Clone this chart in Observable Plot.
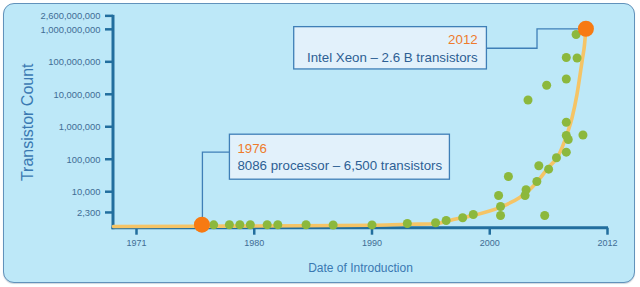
<!DOCTYPE html>
<html>
<head>
<meta charset="utf-8">
<script src="https://cdn.jsdelivr.net/npm/d3@7"></script>
<script src="https://cdn.jsdelivr.net/npm/@observablehq/plot@0.6"></script>
<style>
  html, body { margin: 0; padding: 0; background: #ffffff; }
  #wrap { position: relative; width: 640px; height: 287px; overflow: hidden; }
  #panel { position: absolute; left: 3px; top: 3px; width: 630px; height: 278px;
           border: 1.5px solid #6192bb; border-radius: 11px; background: #bde8f8;
           box-shadow: 0 1px 1px rgba(60,90,120,0.25); }
  #chart { position: absolute; left: 0; top: 0; }
</style>
</head>
<body>
<div id="wrap"><div id="panel"></div><div id="chart"></div></div>
<script>
// ---- data ----
const xTicks = [1971, 1980, 1990, 2000, 2012];
const yTicks = [2300, 10000, 100000, 1000000, 10000000, 100000000, 1000000000, 2600000000];
const yDomain = [780, 2600000000];

const chipYears = [1976.9, 1978.1, 1978.9, 1979.7, 1981.1, 1982.0, 1984.4, 1986.7, 1990.0, 1993.0,
  1995.4, 1996.3, 1997.7, 1998.6, 2000.9, 2001.1, 2001.1, 2001.9, 2003.6, 2003.7,
  2004.8, 2005.0, 2005.6, 2006.0, 2006.8, 2007.8, 2007.8, 2008.0, 2009.5, 2007.8,
  2003.9, 2005.8, 2007.8, 2007.8, 2008.9, 2008.8];
const chipCounts = [990, 1000, 1000, 1000, 1000, 1000, 1000, 975, 985, 1090,
  1145, 1350, 1630, 2060, 7930, 3640, 1920, 30500, 7930, 11900,
  21400, 65200, 1920, 51200, 115000, 171000, 558000, 420000, 578000, 1430000,
  6920000, 19700000, 30600000, 141000000, 136000000, 718000000];

const trendYears = [1969.24, 1976.2, 1983.9, 1990.0, 1993.0, 1995.4, 1996.9, 1998.6, 2001.1, 2003.1,
  2003.8, 2004.8, 2006.0, 2006.9, 2007.9, 2008.4, 2008.9, 2009.42, 2009.66, 2009.8];
const trendCounts = [880, 900, 925, 960, 1030, 1070, 1445, 1920, 3460, 7030,
  9990, 20400, 59000, 120000, 643000, 2040000, 10700000, 114000000, 353000000, 1080000000];

const highlightYears = [1976, 2009.8];
const highlightCounts = [1000, 1080000000];
const highlightTitles = ["1976", "2012"];
const highlightTexts = ["8086 processor – 6,500 transistors", "Intel Xeon – 2.6 B transistors"];

const yTitle = "Transistor Count";
const xTitle = "Date of Introduction";

// ---- build tables ----
const chips = chipYears.map((year, i) => ({year, count: chipCounts[i]}));
const trend = trendYears.map((year, i) => ({year, count: trendCounts[i]}));
const highlights = highlightYears.map((year, i) => ({year, count: highlightCounts[i],
  title: highlightTitles[i], text: highlightTexts[i]}));

// ---- styles ----
const FONT = "'Liberation Sans', Arial, Helvetica, sans-serif";
const axisColor = "#226e9e";
const tickText = "#3f6d95";
const titleColor = "#3a79b2";
const green = "#8cb83d";
const orange = "#f77a12";
const curveColor = "#f5c466";
const boxFill = "#e2f1fb";
const boxStroke = "#3f7fb7";
const noteBlue = "#2d5f94";
const noteOrange = "#ee7b2c";

// axis lines and y tick marks, positioned through the scales
function axisLines(index, scales, values, dims) {
  const {width, height, marginLeft, marginRight, marginTop, marginBottom} = dims;
  const g = d3.create("svg:g").attr("stroke", axisColor).attr("stroke-width", 3);
  g.append("line").attr("x1", marginLeft).attr("x2", marginLeft)
    .attr("y1", marginTop - 1).attr("y2", height - marginBottom + 1.5);
  g.append("line").attr("x1", marginLeft - 1.5).attr("x2", width - marginRight + 1)
    .attr("y1", height - marginBottom).attr("y2", height - marginBottom);
  for (const t of yTicks) {
    const yy = scales.y(t);
    g.append("line").attr("x1", marginLeft - 8).attr("x2", marginLeft)
      .attr("y1", yy).attr("y2", yy).attr("stroke-width", 2.5);
  }
  return g.node();
}

function callouts(index, scales) {
  const g = d3.create("svg:g").attr("font-family", FONT).attr("font-size", 13.3);
  // 1976 note: box to the upper right
  {
    const h = highlights[0];
    const px = scales.x(h.year), py = scales.y(h.count);
    g.append("path").attr("fill", "none").attr("stroke", boxStroke).attr("stroke-width", 1.3)
      .attr("d", `M${px + 1},${py}V${py - 72}H${px + 28}`);
    g.append("rect").attr("x", px + 28).attr("y", py - 90).attr("width", 220).attr("height", 45)
      .attr("fill", boxFill).attr("stroke", boxStroke).attr("stroke-width", 1.3);
    g.append("text").attr("x", px + 36).attr("y", py - 71.5).attr("text-anchor", "start")
      .attr("fill", noteOrange).text(h.title);
    g.append("text").attr("x", px + 36).attr("y", py - 54).attr("text-anchor", "start")
      .attr("fill", noteBlue).text(h.text);
  }
  // 2012 note: box to the left
  {
    const h = highlights[1];
    const px = scales.x(h.year), py = scales.y(h.count);
    g.append("path").attr("fill", "none").attr("stroke", boxStroke).attr("stroke-width", 1.3)
      .attr("d", `M${px},${py + 0.7}H${px - 48.4}V${py + 20}H${px - 99}`);
    g.append("rect").attr("x", px - 291.7).attr("y", py - 1.6).attr("width", 192.7).attr("height", 42.3)
      .attr("fill", boxFill).attr("stroke", boxStroke).attr("stroke-width", 1.3);
    g.append("text").attr("x", px - 107.7).attr("y", py + 16).attr("text-anchor", "end")
      .attr("fill", noteOrange).text(h.title);
    g.append("text").attr("x", px - 107.7).attr("y", py + 33.4).attr("text-anchor", "end")
      .attr("fill", noteBlue).text(h.text);
  }
  return g.node();
}

const chart = Plot.plot({
  width: 640,
  height: 287,
  marginLeft: 113,
  marginRight: 33,
  marginTop: 15.85,
  marginBottom: 59.3,
  style: {background: "transparent", fontFamily: FONT, overflow: "visible"},
  x: {type: "linear", domain: xTicks, insetLeft: 23},
  y: {type: "log", domain: yDomain},
  marks: [
    Plot.axisX({ticks: xTicks, tickFormat: d => String(d), tickSize: 7, tickPadding: 4,
      stroke: axisColor, strokeWidth: 2.5, fill: tickText, fontSize: 9, label: null}),
    Plot.axisY({ticks: [], label: null}),
    axisLines,
    Plot.text(yTicks, {y: d => d, text: d3.format(","), frameAnchor: "left", dx: -13,
      textAnchor: "end", fill: tickText, fontSize: 9.4}),
    Plot.text([yTitle], {text: d => d, frameAnchor: "left", dx: -86, rotate: -90,
      fill: titleColor, fontSize: 16, textAnchor: "middle", lineAnchor: "middle"}),
    Plot.text([xTitle], {text: d => d, frameAnchor: "bottom", dy: 39.5,
      fill: titleColor, fontSize: 12, textAnchor: "middle", lineAnchor: "middle"}),
    callouts,
    Plot.line(trend, {x: "year", y: "count", stroke: curveColor, strokeWidth: 3.6, curve: "monotone-x"}),
    Plot.dot(chips, {x: "year", y: "count", r: 4.5, fill: green}),
    Plot.dot(highlights, {x: "year", y: "count", r: 8, fill: orange})
  ]
});
document.getElementById("chart").appendChild(chart);
</script>
</body>
</html>
